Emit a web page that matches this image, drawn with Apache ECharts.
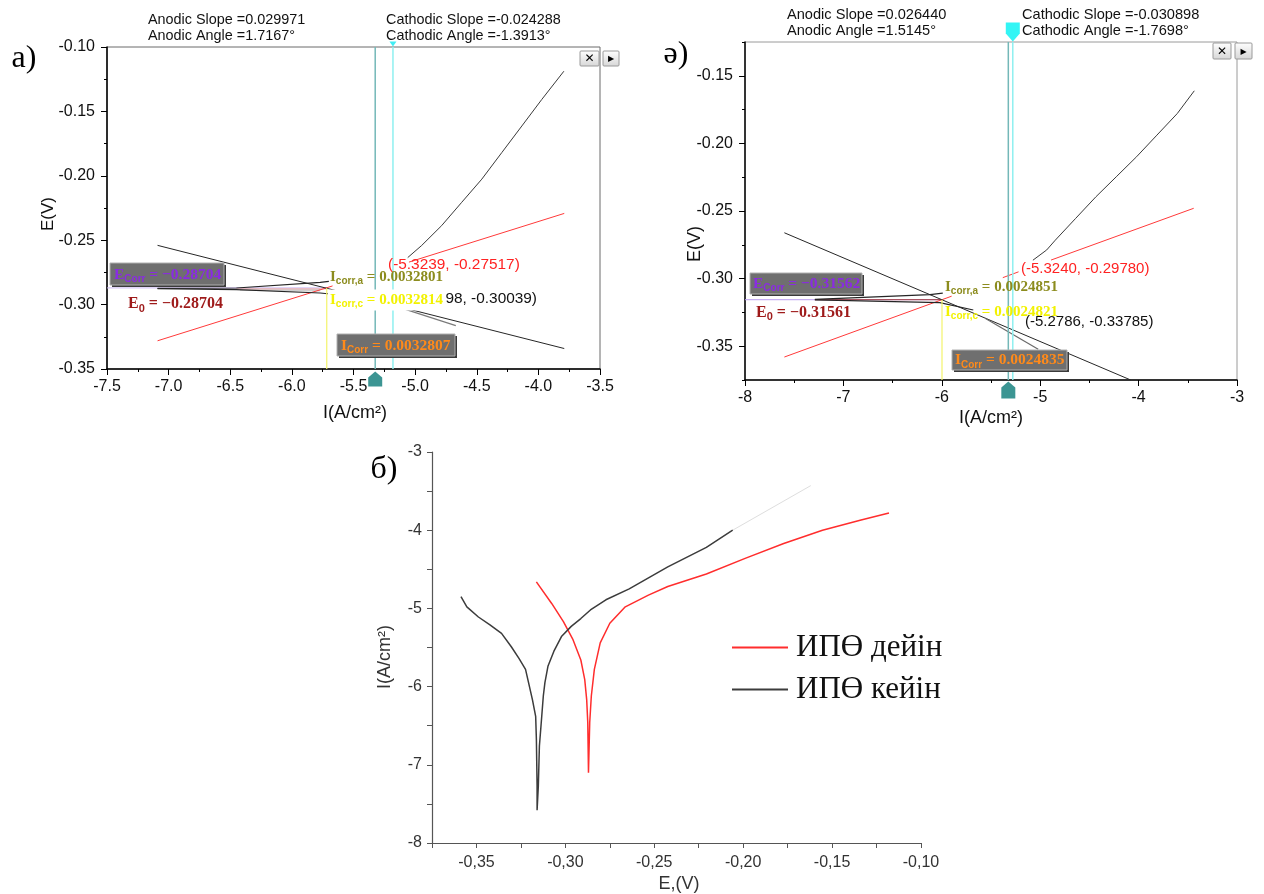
<!DOCTYPE html>
<html><head><meta charset="utf-8">
<script src="https://cdn.jsdelivr.net/npm/echarts@6/dist/echarts.min.js"></script>
<style>html,body{margin:0;padding:0;background:#fff}#c{width:1264px;height:894px}</style>
</head><body><div id="c"></div>
<script>
// ===== Panel а) : E(V) vs log I =====
const aAnodicCurve = [[-5.06,-0.2635],[-4.947,-0.2541],[-4.785,-0.2387],[-4.622,-0.2206],[-4.459,-0.2026],[-4.297,-0.1820],[-4.134,-0.1613],[-3.972,-0.1407],[-3.793,-0.1188]];
const aAnodicNear = [[-7.09,-0.2874],[-6.45,-0.2871],[-5.77,-0.2828],[-5.70,-0.2820]];
const aCathodicData = [
  [[-7.09,-0.2876],[-6.45,-0.2884],[-5.77,-0.2910],[-5.45,-0.2941]],
  [[-5.16,-0.3012],[-4.67,-0.3163]]
];
const aAnodicTafel = [
  [[-7.09,-0.3281],[-5.67,-0.2855]],
  [[-5.05,-0.2670],[-3.79,-0.2292]]
];
const aCathodicTafel = [
  [[-7.09,-0.2540],[-5.43,-0.2943]],
  [[-5.16,-0.3009],[-3.79,-0.3341]]
];
const aBand = [[-6.42,-0.2880],[-5.77,-0.2886]];
const aEcorrLine = [[-7.5,-0.28704],[-5.72,-0.28704]];
const aE0Line = [[-6.45,-0.2878],[-5.72,-0.2878]];
const aYellow = [[-5.717,-0.2872],[-5.717,-0.35]];
const aTealX = -5.3239, aCyanX = -5.1798;
const aYRange = [-0.35, -0.10], aXRange = [-7.5, -3.5];

// ===== Panel ә) =====
const eAnodicCurve = [[-5.074,-0.2864],[-4.934,-0.2788],[-4.847,-0.2716],[-4.640,-0.2555],[-4.434,-0.2395],[-4.227,-0.2247],[-4.021,-0.2099],[-3.814,-0.1939],[-3.607,-0.1779],[-3.434,-0.1611]];
const eAnodicNear = [[-7.29,-0.3153],[-6.12,-0.3119],[-5.99,-0.3108]];
const eCathodicData = [
  [[-7.29,-0.3158],[-6.02,-0.3178],[-5.68,-0.3232]],
  [[-5.56,-0.3293],[-5.02,-0.3522]]
];
const eAnodicTafel = [
  [[-7.60,-0.3580],[-5.90,-0.3130]],
  [[-5.38,-0.2993],[-5.22,-0.2950]],
  [[-4.89,-0.2863],[-3.44,-0.2480]]
];
const eCathodicTafel = [[-7.60,-0.2661],[-4.08,-0.3750]];
const eEcorrLine = [[-8,-0.31562],[-5.99,-0.31562]];
const eE0Line = [[-7.29,-0.31561],[-6.0,-0.31561]];
const eYellow = [[-5.998,-0.3156],[-5.998,-0.375]];
const eTealX = -5.3240, eCyanX = -5.2786;
const eYRange = [-0.375, -0.125], eXRange = [-8, -3];
const eYTickLabels = [-0.35,-0.30,-0.25,-0.20,-0.15];

// ===== Panel б) : I vs E =====
const bLegend = ['ИПӨ дейін','ИПӨ кейін'];
const bRedE = [-0.3163,-0.3076,-0.3011,-0.2957,-0.2913,-0.2891,-0.2880,-0.2874,-0.2870,-0.2863,-0.2854,-0.2837,-0.2804,-0.2750,-0.2663,-0.2533,-0.2424,-0.2207,-0.1989,-0.1772,-0.1554,-0.1337,-0.1180];
const bRedI = [-4.66,-4.94,-5.17,-5.40,-5.66,-5.91,-6.17,-6.46,-7.10,-6.46,-6.12,-5.78,-5.44,-5.19,-4.98,-4.83,-4.72,-4.56,-4.36,-4.17,-4.00,-3.87,-3.78];
const bBlackE = [-0.3587,-0.3554,-0.3489,-0.3424,-0.3359,-0.3304,-0.3261,-0.3224,-0.3207,-0.3185,-0.3167,-0.3163,-0.3159,-0.3159,-0.3152,-0.3146,-0.3137,-0.3124,-0.3115,-0.3098,-0.3065,-0.3022,-0.2967,-0.2913,-0.2859,-0.2772,-0.2641,-0.2424,-0.2207,-0.2059];
const bBlackI = [-4.85,-4.98,-5.11,-5.21,-5.32,-5.49,-5.64,-5.78,-5.95,-6.17,-6.38,-6.67,-7.27,-7.58,-7.27,-6.76,-6.50,-6.12,-5.95,-5.74,-5.55,-5.36,-5.23,-5.13,-5.02,-4.89,-4.75,-4.47,-4.22,-4.00];
const bFaintE = [-0.2059,-0.1620];
const bFaintI = [-4.00,-3.43];
const bXTickLabels = [-0.35,-0.30,-0.25,-0.20,-0.15,-0.10];
const bXRange = [-0.375,-0.10], bYRange = [-8,-3];

// ---------------------------------------------------------------
const zip = (a,b) => a.map((v,i)=>[v,b[i]]);
const SANS = '"Liberation Sans", Arial, sans-serif';
const SERIF = '"Liberation Serif", "DejaVu Serif", serif';
const isMult = (v, step) => Math.abs(v/step - Math.round(v/step)) < 1e-6;

const series = [];
function line(data, xi, yi, color, width, z, extra) {
  series.push(Object.assign({type:'line', xAxisIndex:xi, yAxisIndex:yi, data, symbol:'none', showSymbol:false,
    lineStyle:{color, width}, itemStyle:{color}, z: z||2, silent:true, animation:false}, extra||{}));
}
function marker(x, y, xi, yi, path, size, offset, color) {
  series.push({type:'scatter', xAxisIndex:xi, yAxisIndex:yi, data:[[x,y]], symbol:path, symbolSize:size,
    symbolOffset:offset, itemStyle:{color}, clip:false, z:8, silent:true, animation:false});
}

// Panel а series
line(aBand, 0,0,'#cfcfcf',3,2);
line(aEcorrLine,0,0,'#cbb9f2',1,2);
line(aE0Line,0,0,'#f2b3b3',1,2);
aAnodicTafel.forEach(s=>line(s,0,0,'#ff3a3a',1,3));
aCathodicTafel.forEach(s=>line(s,0,0,'#262626',1,3));
line(aAnodicNear,0,0,'#262626',1.2,3);
aCathodicData.forEach((s,i)=>line(s,0,0,i?'#7a7a7a':'#262626',1.2,3));
line(aAnodicCurve,0,0,'#3a3a3a',1,3);
line(aYellow,0,0,'#f4f46a',1.2,4);
line([[aTealX,aYRange[0]],[aTealX,aYRange[1]]],0,0,'#74b8b8',1.5,5);
line([[aCyanX,aYRange[0]],[aCyanX,aYRange[1]]],0,0,'#8ff0f0',1.5,5);
marker(aTealX,aYRange[0],0,0,'path://M7,0 L14,6 L14,15 L0,15 L0,6 Z',[14,15],[0,10],'#0b7b78');
marker(aCyanX,aYRange[1],0,0,'path://M0,0 L8,0 L4,5 Z',[7,5],[0,-3],'#10e8f0');

// Panel ә series
line(eEcorrLine,1,1,'#b89cf0',1,2);
line(eE0Line,1,1,'#a03a3a',1,2);
eAnodicTafel.forEach(s=>line(s,1,1,'#ff3a3a',1,3));
line(eCathodicTafel,1,1,'#262626',1,3);
line(eAnodicNear,1,1,'#262626',1.2,3);
eCathodicData.forEach((s,i)=>line(s,1,1,i?'#6a6a6a':'#262626',1.2,3));
line(eAnodicCurve,1,1,'#3a3a3a',1,3);
line(eYellow,1,1,'#f4f46a',1.2,4);
line([[eTealX,eYRange[0]],[eTealX,eYRange[1]]],1,1,'#74b8b8',1.5,5);
line([[eCyanX,eYRange[0]],[eCyanX,eYRange[1]]],1,1,'#8ff0f0',1.5,5);
marker(eTealX,eYRange[0],1,1,'path://M7,0 L14,6 L14,17 L0,17 L0,6 Z',[14,17],[0,10],'#0b7b78');
marker(eCyanX,eYRange[1],1,1,'path://M0,0 L14,0 L14,11 L7,19 L0,11 Z',[14,19],[0,-10],'#00f2f2');

// Panel б series
line(zip(bFaintE,bFaintI),2,3,'#dedede',1,2);
line(zip(bRedE,bRedI),2,3,'#ff2d2d',1.5,3,{name:bLegend[0]});
line(zip(bBlackE,bBlackI),2,3,'#3c3c3c',1.5,3,{name:bLegend[1]});

// ---------------------------------------------------------------
const blackAxis = {lineStyle:{color:'#000',width:1.5}};
const tickStyle = {lineStyle:{color:'#000',width:1}};
const labA = {fontFamily:SANS,fontSize:16,color:'#111',margin:10};

const xAxis = [
  {gridIndex:0,type:'value',min:aXRange[0],max:aXRange[1],interval:0.5,axisLine:blackAxis,
   axisTick:Object.assign({length:6},tickStyle),minorTick:Object.assign({show:true,splitNumber:2,length:3},tickStyle),
   splitLine:{show:false},axisLabel:Object.assign({formatter:v=>v.toFixed(1)},labA)},
  {gridIndex:1,type:'value',min:eXRange[0],max:eXRange[1],interval:1,axisLine:blackAxis,
   axisTick:Object.assign({length:6},tickStyle),minorTick:Object.assign({show:true,splitNumber:2,length:3},tickStyle),
   splitLine:{show:false},axisLabel:Object.assign({formatter:v=>String(Math.round(v))},labA)},
  {gridIndex:2,type:'value',min:bXRange[0],max:bXRange[1],interval:0.025,
   axisLine:{lineStyle:{color:'#555',width:1.2}},axisTick:{length:5,lineStyle:{color:'#555'}},splitLine:{show:false},
   axisLabel:{customValues:bXTickLabels,fontFamily:SANS,fontSize:16,color:'#333',margin:12,
     formatter:v=>isMult(v,0.05)?v.toFixed(2).replace('.',','):''}}
];
const yAxis = [
  {gridIndex:0,type:'value',min:aYRange[0],max:aYRange[1],interval:0.05,axisLine:blackAxis,
   axisTick:Object.assign({length:6},tickStyle),minorTick:Object.assign({show:true,splitNumber:2,length:3},tickStyle),
   splitLine:{show:false},axisLabel:Object.assign({formatter:v=>v.toFixed(2)},labA,{margin:12})},
  {gridIndex:1,type:'value',position:'left',min:eYRange[0],max:eYRange[1],interval:0.025,axisLine:blackAxis,
   axisTick:Object.assign({length:3},tickStyle),splitLine:{show:false},
   axisLabel:Object.assign({customValues:eYTickLabels,formatter:v=>isMult(v,0.05)?v.toFixed(2):''},labA,{margin:12})},
  {gridIndex:1,type:'value',position:'left',min:eYRange[0],max:eYRange[1],axisLine:{show:false},
   axisTick:Object.assign({show:true,length:6,customValues:eYTickLabels},tickStyle),axisLabel:{show:false},splitLine:{show:false}},
  {gridIndex:2,type:'value',min:bYRange[0],max:bYRange[1],interval:0.5,
   axisLine:{lineStyle:{color:'#555',width:1.2}},axisTick:{length:5,lineStyle:{color:'#555'}},splitLine:{show:false},
   axisLabel:{fontFamily:SANS,fontSize:16,color:'#333',margin:10,formatter:v=>isMult(v,1)?String(Math.round(v)):''}}
];

// ---------------------------------------------------------------
const G = [];
function txt(x,y,text,o){ G.push({type:'text',x,y,z:o.z||20,style:Object.assign({text,verticalAlign:'middle',align:'left'},o.style)}); }
const plain = (size,color)=>({fontFamily:SANS,fontSize:size,fill:color});
function rich(x,y,main,sub,rest,color,size,o){
  o=o||{};
  G.push({type:'text',x,y,z:o.z||20,style:{text:'{m|'+main+'}{s|'+sub+'}{m|'+rest+'}',verticalAlign:'middle',align:'left',
    backgroundColor:o.bg, padding:o.bg?[1,3,1,2]:0,
    rich:{m:{fontFamily:SERIF,fontWeight:'bold',fontSize:size,fill:color,lineHeight:size+4},
          s:{fontFamily:SANS,fontWeight:'bold',fontSize:Math.round(size*0.66),fill:color,verticalAlign:'bottom',lineHeight:size+4}}}});
}
function box(x,y,w,h){
  G.push({type:'rect',z:30,shape:{x:x+2,y:y+2,width:w,height:h},style:{fill:'#3a3a3a'}});
  G.push({type:'rect',z:30,shape:{x,y,width:w,height:h},style:{fill:'#6f6f6f',stroke:'#b0b0b0',lineWidth:1}});
}
function button(x,y,w,h,sym,size){
  G.push({type:'rect',z:30,shape:{x,y,width:w,height:h,r:1},style:{fill:new echarts.graphic.LinearGradient(0,0,0,1,[{offset:0,color:'#ffffff'},{offset:1,color:'#d6d6d6'}]),stroke:'#9a9a9a',lineWidth:1}});
  G.push({type:'text',z:31,x:x+w/2,y:y+h/2+0.5,style:{text:sym,align:'center',verticalAlign:'middle',fontFamily:'"DejaVu Sans", sans-serif',fontWeight:'bold',fontSize:size,fill:'#000'}});
}

// Panel а annotations
txt(24,59,'а)',{style:{fontFamily:SERIF,fontSize:32,fill:'#000',align:'center'}});
txt(148,20.5,'Anodic Slope =0.029971',{style:plain(14.4,'#111')});
txt(148,36.5,'Anodic Angle =1.7167°',{style:plain(14.4,'#111')});
txt(386,20.5,'Cathodic Slope =-0.024288',{style:plain(14.4,'#111')});
txt(386,36.5,'Cathodic Angle =-1.3913°',{style:plain(14.4,'#111')});
txt(388,265,'(-5.3239, -0.27517)',{style:plain(15.4,'#ff2222')});
txt(537,298.5,'(-5.1798, -0.30039)',{z:18,style:Object.assign(plain(15.4,'#111'),{align:'right'})});
rich(330,277,'I','corr,a',' = 0.0032801','#8c8c1e',15);
rich(328,300,'I','corr,c',' = 0.0032814','#f2f200',15,{bg:'#ffffff',z:19});
rich(128,304,'E','0',' = −0.28704','#9e1a1a',16);
box(110,263,114,22); rich(114,274.5,'E','Corr',' = −0.28704','#8a2be2',15.5,{z:32});
box(337,334,118,22); rich(341,345.5,'I','Corr',' = 0.0032807','#ff8a1a',15.5,{z:32});
button(580,51,19,15,'✕',12); button(603,51,16,15,'▶',8);
G.push({type:'text',z:20,x:48,y:214,rotation:Math.PI/2,style:{text:'E(V)',align:'center',verticalAlign:'middle',fontFamily:SANS,fontSize:17,fill:'#111'}});
G.push({type:'text',z:20,x:355,y:413,style:{text:'I(A/cm²)',align:'center',verticalAlign:'middle',fontFamily:SANS,fontSize:18,fill:'#111'}});

// Panel ә annotations
txt(676,55,'ә)',{style:{fontFamily:SERIF,fontSize:32,fill:'#000',align:'center'}});
txt(787,15,'Anodic Slope =0.026440',{style:plain(14.6,'#111')});
txt(787,30.5,'Anodic Angle =1.5145°',{style:plain(14.6,'#111')});
txt(1022,15,'Cathodic Slope =-0.030898',{style:plain(14.6,'#111')});
txt(1022,30.5,'Cathodic Angle =-1.7698°',{style:plain(14.6,'#111')});
txt(1021,268.5,'(-5.3240, -0.29780)',{style:plain(15,'#ff2222')});
txt(1025,322,'(-5.2786, -0.33785)',{style:plain(15,'#111')});
rich(945,287,'I','corr,a',' = 0.0024851','#8c8c1e',15);
rich(945,312,'I','corr,c',' = 0.0024821','#f2f200',15);
rich(756,312.5,'E','0',' = −0.31561','#9e1a1a',16);
box(750,273,112,21); rich(753,283.5,'E','Corr',' = −0.31562','#8a2be2',15.5,{z:32});
box(952,350,115,20); rich(955,360,'I','Corr',' = 0.0024835','#ff8a1a',15.5,{z:32});
button(1213,43,18,16,'✕',12); button(1235,43,17,16,'▶',8);
G.push({type:'text',z:20,x:695,y:244,rotation:Math.PI/2,style:{text:'E(V)',align:'center',verticalAlign:'middle',fontFamily:SANS,fontSize:18,fill:'#111'}});
G.push({type:'text',z:20,x:991,y:418,style:{text:'I(A/cm²)',align:'center',verticalAlign:'middle',fontFamily:SANS,fontSize:18,fill:'#111'}});

// Panel б annotations
txt(384,470,'б)',{style:{fontFamily:SERIF,fontSize:32,fill:'#000',align:'center'}});
G.push({type:'text',z:20,x:385,y:657,rotation:Math.PI/2,style:{text:'I(A/cm²)',align:'center',verticalAlign:'middle',fontFamily:SANS,fontSize:18,fill:'#333'}});
G.push({type:'text',z:20,x:679,y:884,style:{text:'E,(V)',align:'center',verticalAlign:'middle',fontFamily:SANS,fontSize:18,fill:'#333'}});

const option = {
  animation:false,
  backgroundColor:'#fff',
  grid:[
    {left:107,top:47,width:493,height:322,show:true,borderColor:'#6a6a6a',borderWidth:1,backgroundColor:'transparent'},
    {left:745,top:42,width:492,height:338,show:true,borderColor:'#9a9a9a',borderWidth:1,backgroundColor:'transparent'},
    {left:432,top:452,width:489,height:391}
  ],
  xAxis, yAxis, series,
  legend:{data:bLegend,left:727,top:627,orient:'vertical',icon:'rect',itemWidth:56,itemHeight:2,itemGap:11,
    textStyle:{fontFamily:SERIF,fontSize:31,color:'#111',lineHeight:30,padding:[0,0,0,3]}},
  graphic:G
};
const chart = echarts.init(document.getElementById('c'));
chart.setOption(option);
</script></body></html>
